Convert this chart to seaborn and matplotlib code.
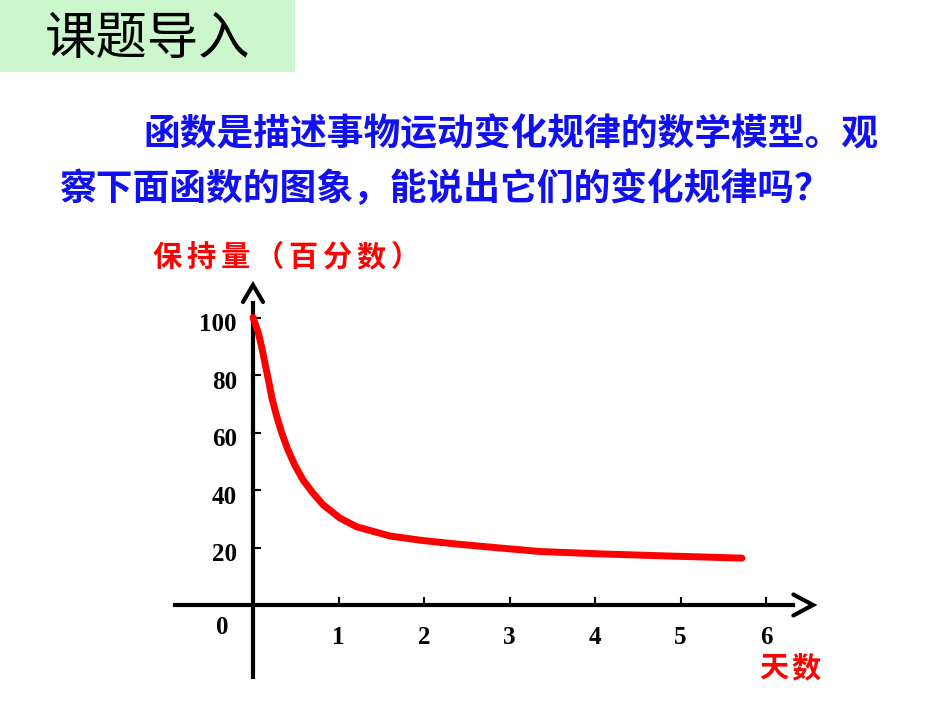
import pandas as pd
import seaborn as sns
import matplotlib.pyplot as plt
from matplotlib.patches import Rectangle

# --- data ---
days = [0.0, 0.058, 0.105, 0.144, 0.184, 0.222, 0.273, 0.331, 0.401, 0.488,
        0.585, 0.702, 0.822, 1.018, 1.213, 1.602, 1.992, 2.382, 2.749, 3.357,
        4.14, 4.912, 5.719]
retention = [100, 95.1, 89.3, 83.5, 77.7, 71.9, 66.1, 60.3, 54.5, 48.7,
             43.5, 38.9, 34.8, 30.2, 27.2, 24.0, 22.4, 21.2, 20.2, 18.6,
             17.7, 17.0, 16.3]
x_ticks = [1, 2, 3, 4, 5, 6]
y_ticks = [20, 40, 60, 80, 100]

title = '课题导入'
intro_1 = '函数是描述事物运动变化规律的数学模型。观'
intro_2 = '察下面函数的图象，能说出它们的变化规律吗？'
y_name = '保持量（百分数）'
x_name = '天数'

# --- style ---
sns.set_style('white')
cjk = ['Noto Sans CJK SC', 'DejaVu Sans']
num_font = ['Liberation Serif', 'DejaVu Serif']
plt.rcParams['font.family'] = cjk
plt.rcParams['text.color'] = 'black'

W, H = 950, 713
fig = plt.figure(figsize=(W / 100, H / 100), dpi=100)

# chart placement (pixels): origin at (253, 605), 85.5 px per day, 2.875 px per percent
x0_px, px_day = 253, 85.5
y0_px, px_pct = 605, 2.875
xlim = (-1.0, 6.7)
ylim = (-30, 115)
left = x0_px + xlim[0] * px_day
right = x0_px + xlim[1] * px_day
bottom = y0_px - ylim[0] * px_pct
top = y0_px - ylim[1] * px_pct
ax = fig.add_axes([left / W, 1 - bottom / H, (right - left) / W, (bottom - top) / H])
ax.set_facecolor('none')

df = pd.DataFrame({'day': days, 'keep': retention})
sns.lineplot(data=df, x='day', y='keep', color='#ff0000', lw=5, ax=ax,
             solid_capstyle='round', solid_joinstyle='round', zorder=4)

ax.set_xlim(*xlim)
ax.set_ylim(*ylim)
ax.set_xlabel('')
ax.set_ylabel('')

# axes drawn as crossing arrows
for s in ['top', 'right']:
    ax.spines[s].set_visible(False)
for s in ['left', 'bottom']:
    ax.spines[s].set_position(('data', 0))
    ax.spines[s].set_linewidth(3)
    ax.spines[s].set_color('black')
ax.spines['left'].set_bounds(-25.0, 105.0)
ax.spines['bottom'].set_bounds(-0.91, 6.32)

dx = 10 / px_day
ax.plot([-dx, 0, dx], [105.4, 111.3, 105.4], color='black', lw=3, solid_joinstyle='miter', clip_on=False)
dy = 10.5 / px_pct
ax.plot([6.32, 6.55, 6.32], [dy, 0, -dy], color='black', lw=3, solid_joinstyle='miter', clip_on=False)

ax.set_xticks(x_ticks)
ax.set_yticks(y_ticks)
ax.tick_params(direction='in', length=6, width=1.5, color='black', labelcolor='black',
               bottom=True, left=True)
ax.tick_params(axis='x', pad=15)
ax.set_xticklabels([str(v) for v in x_ticks], fontfamily=num_font, fontweight='bold',
                   fontsize=18, color='black')
ax.set_yticklabels([])
for v in y_ticks:
    ax.text(-0.19, v - 2.5, str(v), ha='right', va='center', color='black',
            fontfamily=num_font, fontweight='bold', fontsize=18)
ax.text(-0.36, -8, '0', ha='center', va='center', color='black',
        fontfamily=num_font, fontweight='bold', fontsize=18)

# red axis names, letter-spaced like the slide
for i, ch in enumerate(y_name):
    fig.text((167 + 34 * i) / W, 1 - 257 / H, ch, ha='center', va='center',
             color='#ff0000', fontsize=21, fontweight='bold')
for i, ch in enumerate(x_name):
    fig.text((774 + 32 * i) / W, 1 - 668 / H, ch, ha='center', va='center',
             color='#ff0000', fontsize=21, fontweight='bold')

# slide title box
fig.patches.append(Rectangle((0, 1 - 72 / H), 295 / W, 72 / H, transform=fig.transFigure,
                             facecolor='#ccf7cc', edgecolor='none', zorder=0))
fig.text(45 / W, 1 - 39 / H, title, ha='left', va='center', fontsize=37, color='black')

# blue intro text
fig.text(143 / W, 1 - 135 / H, intro_1, ha='left', va='center', fontsize=26.5,
         fontweight='bold', color='#1010f0')
fig.text(60 / W, 1 - 190 / H, intro_2, ha='left', va='center', fontsize=26.5,
         fontweight='bold', color='#1010f0')

plt.savefig('out.png', dpi=100)
